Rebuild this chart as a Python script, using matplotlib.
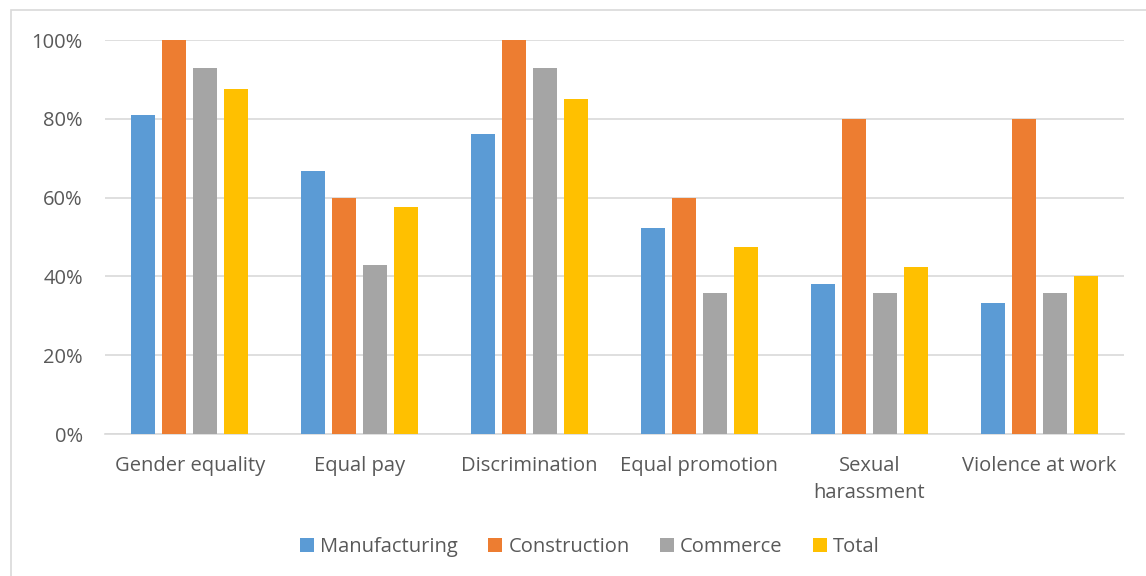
import numpy as np
import matplotlib
matplotlib.use("Agg")
from matplotlib import pyplot as plt
from matplotlib.patches import Rectangle
from matplotlib.ticker import PercentFormatter

categories = ["Gender equality", "Equal pay", "Discrimination",
              "Equal promotion", "Sexual\nharassment", "Violence at work"]
series = ["Manufacturing", "Construction", "Commerce", "Total"]
manufacturing = [81.0, 66.7, 76.2, 52.4, 38.1, 33.3]
construction = [100.0, 60.0, 100.0, 60.0, 80.0, 80.0]
commerce = [92.9, 42.9, 92.9, 35.7, 35.7, 35.7]
total = [87.5, 57.5, 85.0, 47.5, 42.5, 40.0]
colors = ["#5b9bd5", "#ed7d31", "#a5a5a5", "#ffc000"]

plt.rcParams['font.family'] = ['Open Sans', 'DejaVu Sans']
text_color = "#595959"
grid_color = "#d9d9d9"
fs = 14.5

fig = plt.figure(figsize=(11.46, 5.76), dpi=100)
# outer chart frame
fig.patches.append(Rectangle((11 / 1146, -0.01), 1.02, 1 - 10 / 576 + 0.01,
                             transform=fig.transFigure, fill=False,
                             edgecolor=grid_color, linewidth=1.2))

ax = fig.add_axes([105 / 1146, 1 - 434 / 576, (1124 - 105) / 1146, (434 - 40) / 576])
x = np.arange(len(categories))
step = 31 / 170
width = 24 / 170
for i, (name, vals) in enumerate(zip(series, [manufacturing, construction, commerce, total])):
    ax.bar(x + (i - 1.5) * step, vals, width, color=colors[i], label=name, zorder=3)

ax.set_xlim(-0.5, len(categories) - 0.5)
ax.set_ylim(0, 100)
ax.set_yticks(np.arange(0, 101, 20))
ax.yaxis.set_major_formatter(PercentFormatter(decimals=0))
ax.set_xticks(x)
ax.set_xticklabels(categories, linespacing=1.45)
ax.grid(axis='y', color=grid_color, linewidth=1.2, zorder=0)
ax.tick_params(axis='both', length=0, colors=text_color, labelsize=fs)
ax.tick_params(axis='x', pad=16)
ax.tick_params(axis='y', pad=16)
for s in ['top', 'right', 'left']:
    ax.spines[s].set_visible(False)
ax.spines['bottom'].set_color(grid_color)
ax.spines['bottom'].set_linewidth(1.2)

leg = fig.legend(loc='center', bbox_to_anchor=(590 / 1146, 1 - 547 / 576), ncol=4,
                 frameon=False, fontsize=fs, handlelength=0.7, handleheight=0.7,
                 handletextpad=0.3, columnspacing=1.5)
for t in leg.get_texts():
    t.set_color(text_color)

fig.savefig("out.png", dpi=100)
